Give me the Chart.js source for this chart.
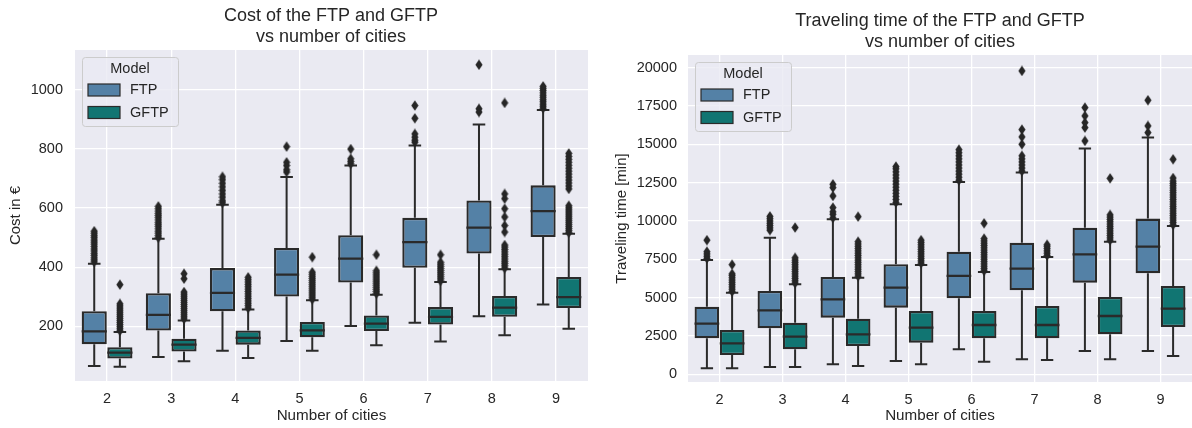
<!DOCTYPE html>
<html>
<head>
<meta charset="utf-8">
<script src="https://cdn.jsdelivr.net/npm/chart.js@4.4.0/dist/chart.umd.min.js"></script>
<style>
    html, body { margin: 0; padding: 0; background: #fff; width: 1192px; height: 428px; overflow: hidden; }
    canvas { position: absolute; top: 0; }
    #costChart { left: 0; }
    #timeChart { left: 610px; }
</style>
</head>
<body>
<canvas id="costChart" width="662" height="428"></canvas>
<canvas id="timeChart" width="660" height="428"></canvas>
<script>
const cities = ['2', '3', '4', '5', '6', '7', '8', '9'];
const models = ['FTP', 'GFTP'];

// Cost in € : whisker ends, quartiles, medians
const costFtpLow = [66, 96, 117, 150, 201, 212, 234, 274];
const costFtpQ1 = [139, 186, 251, 301, 348, 398, 446, 502];
const costFtpMed = [183, 239, 313, 375, 429, 485, 534, 590];
const costFtpQ3 = [251, 312, 397, 465, 508, 567, 626, 677];
const costFtpHigh = [412, 496, 611, 705, 744, 812, 883, 932];
const costFtpOut = [
    [418, 425, 432, 440, 447, 455, 462, 470, 478, 485, 492, 500, 507, 515, 522],
    [500, 507, 515, 522, 530, 538, 545, 552, 560, 568, 575, 582, 590, 598, 606],
    [618, 625, 637, 648, 660, 672, 684, 696, 706],
    [722, 730, 744, 755, 808],
    [750, 758, 767, 800],
    [823, 830, 840, 851, 904, 947],
    [925, 936, 1085],
    [938, 945, 952, 960, 967, 975, 982, 990, 998, 1005, 1012],
];
const costGftpLow = [63, 82, 93, 117, 136, 149, 170, 192];
const costGftpQ1 = [91, 115, 138, 163, 184, 206, 232, 262];
const costGftpMed = [111, 138, 161, 186, 209, 232, 263, 299];
const costGftpQ3 = [129, 158, 186, 215, 237, 265, 303, 367];
const costGftpHigh = [181, 220, 257, 288, 307, 350, 393, 513];
const costGftpOut = [
    [185, 192, 199, 206, 213, 220, 227, 234, 241, 248, 255, 262, 269, 276, 341],
    [225, 232, 239, 246, 253, 260, 267, 274, 281, 288, 295, 302, 309, 316, 361, 378],
    [262, 270, 278, 286, 294, 302, 310, 318, 326, 334, 342, 350, 358, 366],
    [292, 299, 306, 313, 320, 327, 334, 341, 348, 355, 362, 369, 376, 383, 434],
    [311, 318, 325, 332, 339, 346, 353, 360, 367, 374, 381, 388, 442],
    [354, 361, 368, 375, 382, 389, 396, 403, 410, 417, 442],
    [397, 405, 413, 420, 428, 436, 444, 452, 460, 468, 475, 519, 541, 570, 598, 632, 648, 956],
    [517, 524, 531, 538, 545, 552, 559, 566, 573, 580, 587, 594, 601, 608,
     665, 675, 685, 695, 705, 715, 725, 735, 745, 755, 765, 775, 785],
];
const costTicks = [200, 400, 600, 800, 1000];

// Traveling time [min]
const timeFtpLow = [391, 478, 652, 870, 1630, 978, 1522, 1522];
const timeFtpQ1 = [2348, 3000, 3696, 4348, 4957, 5478, 5978, 6587];
const timeFtpMed = [3304, 4174, 4891, 5652, 6413, 6891, 7826, 8326];
const timeFtpQ3 = [4413, 5435, 6348, 7174, 8000, 8587, 9565, 10152];
const timeFtpHigh = [7457, 8913, 10109, 11087, 12543, 13152, 14717, 15435];
const timeFtpOut = [
    [7560, 7700, 7850, 8000, 8750],
    [9400, 9550, 9700, 9850, 10000, 10150, 10300],
    [10200, 10435, 10600, 10870, 11630, 12174, 12390],
    [11200, 11400, 11600, 11800, 12000, 12200, 12400, 12600, 12800, 13000, 13200, 13400, 13550],
    [12650, 12850, 13050, 13250, 13450, 13650, 13850, 14050, 14250, 14450, 14650],
    [13250, 13450, 13650, 13850, 14050, 14250, 15000, 15478, 15957, 19783],
    [15217, 16087, 16413, 16848, 17391],
    [15760, 16196, 17870],
];
const timeGftpLow = [391, 478, 543, 652, 826, 935, 978, 1196];
const timeGftpQ1 = [1261, 1630, 1848, 2065, 2348, 2348, 2609, 3087];
const timeGftpMed = [2022, 2457, 2609, 3043, 3217, 3217, 3804, 4283];
const timeGftpQ3 = [2891, 3370, 3630, 4130, 4130, 4457, 5043, 5761];
const timeGftpHigh = [5326, 5870, 6304, 7130, 6674, 7652, 8652, 9674];
const timeGftpOut = [
    [5400, 5550, 5700, 5850, 6000, 6150, 6300, 6450, 6550, 7150],
    [5950, 6100, 6250, 6400, 6550, 6700, 6850, 7000, 7150, 7300, 7450, 7600, 9570],
    [6400, 6550, 6700, 6850, 7000, 7150, 7300, 7450, 7600, 7750, 7900, 8050, 8200, 8350, 8500, 8650, 10280],
    [7250, 7400, 7550, 7700, 7850, 8000, 8150, 8300, 8450, 8600, 8750],
    [6750, 6900, 7050, 7200, 7350, 7500, 7650, 7800, 7950, 8100, 8250, 8400, 8550, 8700, 8850, 9850],
    [7750, 7900, 8050, 8200, 8350, 8450],
    [8750, 8900, 9050, 9200, 9350, 9500, 9650, 9800, 9950, 10100, 10250, 10400, 12780],
    [9750, 9900, 10050, 10200, 10350, 10500, 10650, 10800, 10950, 11100, 11250, 11400,
     11550, 11700, 11850, 12000, 12150, 12300, 12450, 12600, 12800, 14020],
];
const timeTicks = [0, 2500, 5000, 7500, 10000, 12500, 15000, 17500, 20000];

const modelColors = ['#5481a6', '#117572'];
const edge = '#2a2a2a';
const textColor = '#262626';
const fontFamily = '"Liberation Sans", Arial, sans-serif';

Chart.defaults.font.family = fontFamily;
Chart.defaults.color = textColor;

// thin diamond like matplotlib's 'd' marker
const diamond = document.createElement('canvas');
diamond.width = 8;
diamond.height = 11;
const dctx = diamond.getContext('2d');
dctx.fillStyle = textColor;
dctx.beginPath();
dctx.moveTo(4, 0.3);
dctx.lineTo(7.6, 5.5);
dctx.lineTo(4, 10.7);
dctx.lineTo(0.4, 5.5);
dctx.closePath();
dctx.fill();

// one box series = floating bars (IQR) + whiskers + medians + fliers, all on the hidden linear axis
function boxSeries(label, color, shift, low, q1, med, q3, high, outliers) {
    const half = 0.196;
    const cap = 0.098;
    const boxes = [];
    const whiskers = [];
    const medians = [];
    const fliers = [];
    cities.forEach((c, i) => {
        const x = i + shift;
        boxes.push({x: x, y: [q1[i], q3[i]]});
        whiskers.push({x: x, y: q3[i]}, {x: x, y: high[i]}, {x: x, y: null});
        whiskers.push({x: x, y: low[i]}, {x: x, y: q1[i]}, {x: x, y: null});
        whiskers.push({x: x - cap, y: high[i]}, {x: x + cap, y: high[i]}, {x: x, y: null});
        whiskers.push({x: x - cap, y: low[i]}, {x: x + cap, y: low[i]}, {x: x, y: null});
        medians.push({x: x - half, y: med[i]}, {x: x + half, y: med[i]}, {x: x, y: null});
        outliers[i].forEach(v => fliers.push({x: x, y: v}));
    });
    return [
        {
            type: 'bar', label: label, xAxisID: 'xv', order: 4, grouped: false,
            data: boxes,
            backgroundColor: color, borderColor: edge, borderWidth: 2.3, borderSkipped: false,
            categoryPercentage: 1, barPercentage: 0.98,
        },
        {
            type: 'line', xAxisID: 'xv', order: 3, data: whiskers,
            borderColor: edge, borderWidth: 2, pointRadius: 0, spanGaps: false, fill: false,
        },
        {
            type: 'line', xAxisID: 'xv', order: 1, data: medians,
            borderColor: edge, borderWidth: 2.3, pointRadius: 0, spanGaps: false, fill: false,
        },
        {
            type: 'scatter', xAxisID: 'xv', order: 2, data: fliers,
            pointStyle: diamond, pointRadius: 4, borderWidth: 0,
        },
    ];
}

// darkgrid background
const plotBackground = {
    id: 'plotBackground',
    beforeDraw(chart) {
        const a = chart.chartArea;
        chart.ctx.save();
        chart.ctx.fillStyle = '#eaeaf2';
        chart.ctx.fillRect(a.left, a.top, a.right - a.left, a.bottom - a.top);
        chart.ctx.restore();
    }
};

// seaborn style legend box in the upper left corner
const modelLegend = {
    id: 'modelLegend',
    afterDraw(chart) {
        const ctx = chart.ctx;
        const x = chart.chartArea.left + 7;
        const y = chart.chartArea.top + 7;
        ctx.save();
        ctx.beginPath();
        ctx.roundRect(x + 0.5, y + 0.5, 96, 69, 3);
        ctx.fillStyle = 'rgba(234,234,242,0.8)';
        ctx.fill();
        ctx.strokeStyle = '#cccccc';
        ctx.lineWidth = 1;
        ctx.stroke();
        ctx.font = '14.5px ' + fontFamily;
        ctx.fillStyle = textColor;
        ctx.textBaseline = 'middle';
        ctx.textAlign = 'center';
        ctx.fillText('Model', x + 48, y + 12);
        ctx.textAlign = 'left';
        models.forEach((m, k) => {
            const cy = y + 33 + k * 22.5;
            ctx.fillStyle = modelColors[k];
            ctx.fillRect(x + 6, cy - 6, 32, 12);
            ctx.strokeStyle = edge;
            ctx.lineWidth = 1.2;
            ctx.strokeRect(x + 6, cy - 6, 32, 12);
            ctx.fillStyle = textColor;
            ctx.fillText(m, x + 48, cy);
        });
        ctx.restore();
    }
};

function makeChart(id, title, yTitle, yMin, yMax, ticks, layout, ftp, gftp) {
    const datasets = boxSeries(models[0], modelColors[0], -0.2, ...ftp)
        .concat(boxSeries(models[1], modelColors[1], 0.2, ...gftp));
    return new Chart(document.getElementById(id), {
        type: 'bar',
        data: { labels: cities, datasets: datasets },
        plugins: [plotBackground, modelLegend],
        options: {
            responsive: false,
            animation: false,
            events: [],
            layout: { padding: 0 },
            plugins: {
                legend: { display: false },
                tooltip: { enabled: false },
                title: {
                    display: true,
                    text: title,
                    color: textColor,
                    font: { size: 18, weight: 'normal', lineHeight: 1.2 },
                    padding: { top: layout.titleTop, bottom: 1.8 },
                },
            },
            scales: {
                x: {
                    type: 'category',
                    offset: true,
                    grid: { offset: false, color: '#ffffff', lineWidth: 1.3, drawTicks: false },
                    border: { display: false },
                    ticks: { padding: 9, color: textColor, font: { size: 14.5 } },
                    title: {
                        display: true, text: 'Number of cities', color: textColor,
                        font: { size: 15.2 }, padding: { top: 0, bottom: 3 },
                    },
                    afterFit: (scale) => { scale.height = layout.xHeight; },
                },
                xv: {
                    type: 'linear', display: false, offset: false, min: -0.5, max: 7.5,
                    ticks: { stepSize: 1, includeBounds: false },
                },
                y: {
                    type: 'linear',
                    min: yMin,
                    max: yMax,
                    grid: { color: '#ffffff', lineWidth: 1.3, drawTicks: false },
                    border: { display: false },
                    afterBuildTicks: (scale) => { scale.ticks = ticks.map(v => ({ value: v })); },
                    ticks: { padding: layout.tickPad, color: textColor, font: { size: 14.5 }, callback: (v) => String(v) },
                    title: {
                        display: true, text: yTitle, color: textColor,
                        font: { size: 15 }, padding: { top: layout.yTitlePad, bottom: 0 },
                    },
                    afterFit: (scale) => { scale.width = layout.yWidth; },
                },
                // empty right axis only keeps the plot centred under the title
                yr: {
                    type: 'linear', position: 'right', display: true,
                    grid: { display: false, drawTicks: false }, border: { display: false },
                    ticks: { display: false },
                    afterFit: (scale) => { scale.width = layout.right; },
                },
            },
        },
    });
}

makeChart('costChart', ['Cost of the FTP and GFTP', 'vs number of cities'], 'Cost in €',
    15, 1135, costTicks,
    { right: 74, titleTop: 5, xHeight: 47, yWidth: 75, tickPad: 12, yTitlePad: 6.7 },
    [costFtpLow, costFtpQ1, costFtpMed, costFtpQ3, costFtpHigh, costFtpOut],
    [costGftpLow, costGftpQ1, costGftpMed, costGftpQ3, costGftpHigh, costGftpOut]);

makeChart('timeChart', ['Traveling time of the FTP and GFTP', 'vs number of cities'], 'Traveling time [min]',
    -500, 20820, timeTicks,
    { right: 78, titleTop: 10, xHeight: 46, yWidth: 78, tickPad: 11, yTitlePad: 2.7 },
    [timeFtpLow, timeFtpQ1, timeFtpMed, timeFtpQ3, timeFtpHigh, timeFtpOut],
    [timeGftpLow, timeGftpQ1, timeGftpMed, timeGftpQ3, timeGftpHigh, timeGftpOut]);
</script>
</body>
</html>
